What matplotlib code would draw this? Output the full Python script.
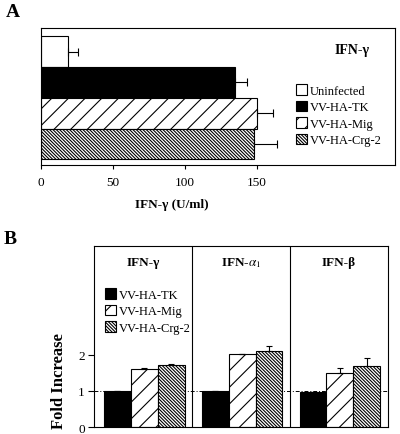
import matplotlib
matplotlib.use("Agg")
import matplotlib.pyplot as plt
from matplotlib.patches import Patch
import numpy as np

plt.rcParams['font.family'] = ['Liberation Serif', 'DejaVu Serif']
plt.rcParams['mathtext.fontset'] = 'stix'
plt.rcParams['hatch.linewidth'] = 0.8

# Panel A data
a_groups = ['Uninfected', 'VV-HA-TK', 'VV-HA-Mig', 'VV-HA-Crg-2']
a_values = [19, 135, 150, 148]
a_errors = [7, 8, 11, 16]
a_ticks = [0, 50, 100, 150]

# Panel B data
b_panels = ['IFN-γ', r'IFN-$\alpha_1$', 'IFN-β']
b_series = ['VV-HA-TK', 'VV-HA-Mig', 'VV-HA-Crg-2']
b_tk = [1.0, 1.0, 0.98]
b_mig = [1.61, 2.01, 1.50]
b_crg = [1.72, 2.10, 1.68]
b_tk_err = [0.0, 0.0, 0.0]
b_mig_err = [0.03, 0.02, 0.12]
b_crg_err = [0.01, 0.15, 0.24]
b_yticks = [0, 1, 2]

styles = {
    'Uninfected': dict(facecolor='white', hatch=None),
    'VV-HA-TK': dict(facecolor='black', hatch=None),
    'VV-HA-Mig': dict(facecolor='white', hatch='//'),
    'VV-HA-Crg-2': dict(facecolor='white', hatch='\\' * 10),
}

fig = plt.figure(figsize=(4.0, 4.35), dpi=100)

# ---- Panel A ----
axA = fig.add_axes([0.102, 0.618, 0.886, 0.315])
ypos = np.arange(len(a_groups))[::-1]
for y, g, v, e in zip(ypos, a_groups, a_values, a_errors):
    st = styles[g]
    axA.barh(y, v, height=1.0, color=st['facecolor'], edgecolor='black',
             hatch=st['hatch'], linewidth=0.8, zorder=2)
    axA.errorbar(v, y, xerr=[[0], [e]], fmt='none', ecolor='black',
                 elinewidth=0.8, capsize=3, capthick=0.8, zorder=3)
axA.set_xlim(0, 246)
axA.set_ylim(-0.69, 3.76)
axA.set_yticks([])
axA.set_xticks(a_ticks)
axA.tick_params(axis='x', direction='out', length=3, width=0.8, labelsize=9.5, pad=5)
axA.set_xlabel('IFN-γ (U/ml)', fontsize=9.5, fontweight='bold')
axA.xaxis.set_label_coords(0.37, -0.24)
for s in axA.spines.values():
    s.set_linewidth(0.8)
axA.text(0.83, 0.845, 'IFN-γ', transform=axA.transAxes, fontsize=10,
         fontweight='bold', ha='left', va='center')
handlesA = [Patch(facecolor=styles[g]['facecolor'], edgecolor='black',
                  hatch=styles[g]['hatch'], linewidth=0.8, label=g) for g in a_groups]
axA.legend(handles=handlesA, loc='upper left', bbox_to_anchor=(0.72, 0.59),
           frameon=False, fontsize=9, handlelength=0.9, handleheight=0.9,
           handletextpad=0.2, labelspacing=0.32, borderpad=0, borderaxespad=0)

# ---- Panel B ----
axB = fig.add_axes([0.236, 0.0154, 0.7335, 0.4175])
offsets = [0.235, 0.51, 0.785]
width = 0.275
xbase = np.arange(len(b_panels))
axB.axhline(1, color='black', lw=0.7, ls=(0, (4, 2, 1, 2)), zorder=1)
for off, name, vals, errs in zip(offsets, b_series,
                                 [b_tk, b_mig, b_crg],
                                 [b_tk_err, b_mig_err, b_crg_err]):
    st = styles[name]
    axB.bar(xbase + off, vals, width=width, color=st['facecolor'], edgecolor='black',
            hatch=st['hatch'], linewidth=0.8, zorder=2)
    axB.errorbar(xbase + off, vals, yerr=[np.zeros(len(errs)), errs], fmt='none',
                 ecolor='black', elinewidth=0.8, capsize=2.5, capthick=0.8, zorder=3)
for xd in xbase[1:]:
    axB.axvline(xd, color='black', lw=0.8, zorder=4)
for i, title in enumerate(b_panels):
    axB.text(i + 0.5, 0.91, title, transform=axB.get_xaxis_transform(),
             ha='center', va='center', fontsize=9.5, fontweight='bold')
axB.set_xlim(0, 3)
axB.set_ylim(0, 5)
axB.set_xticks([])
axB.set_yticks(b_yticks)
axB.tick_params(axis='y', direction='out', length=4, width=0.8, labelsize=9.5, pad=3)
for s in axB.spines.values():
    s.set_linewidth(0.8)
handlesB = [Patch(facecolor=styles[g]['facecolor'], edgecolor='black',
                  hatch=styles[g]['hatch'], linewidth=0.8, label=g) for g in b_series]
axB.legend(handles=handlesB, loc='upper left', bbox_to_anchor=(0.035, 0.765),
           frameon=False, fontsize=9, handlelength=0.9, handleheight=0.9,
           handletextpad=0.2, labelspacing=0.32, borderpad=0, borderaxespad=0)
fig.text(0.147, 0.125, 'Fold Increase', rotation=90, ha='center', va='center',
         fontsize=12, fontweight='bold')

fig.text(0.015, 0.972, 'A', fontsize=14, fontweight='bold', ha='left', va='center')
fig.text(0.008, 0.45, 'B', fontsize=14, fontweight='bold', ha='left', va='center')

fig.savefig('out.png', dpi=100)
